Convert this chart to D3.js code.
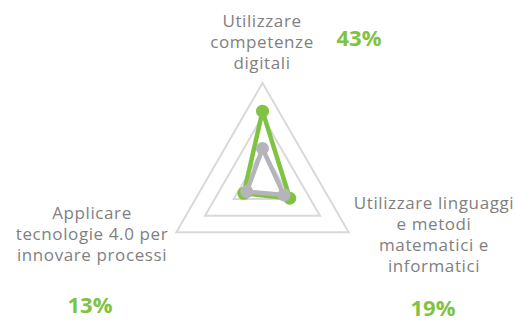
<!DOCTYPE html>
<html>
<head>
<meta charset="utf-8">
<script src="https://cdn.jsdelivr.net/npm/d3@7"></script>
<style>
  body { margin: 0; background: #fff; }
  text { font-family: "Open Sans", sans-serif; }
</style>
</head>
<body>
<div id="chart"></div>
<script>
// axes of the radar, clockwise from the top
var categories = ['Utilizzare competenze digitali', 'Utilizzare linguaggi e metodi matematici e informatici', 'Applicare tecnologie 4.0 per innovare processi'];
var labelLines = [['Utilizzare', 'competenze', 'digitali'], ['Utilizzare linguaggi', 'e metodi', 'matematici e', 'informatici'], ['Applicare', 'tecnologie 4.0 per', 'innovare processi']];
var greenValues = [0.43, 0.19, 0.13];
var greyValues = [0.205, 0.15, 0.11];
var percentLabels = ['43%', '19%', '13%'];
var gridLevels = [0.2, 0.4, 0.6];

var width = 516, height = 322;
var cx = 262.5, cy = 182.5, R = 99.5;

var svg = d3.select('#chart').append('svg').attr('width', width).attr('height', height);

var r = d3.scaleLinear().domain([0, 0.6]).range([0, R]);
var angle = d3.scaleLinear().domain([0, categories.length]).range([0, 2 * Math.PI]);

var radial = d3.lineRadial().angle(function(d, i) { return angle(i); }).radius(function(d) { return r(d); }).curve(d3.curveLinearClosed);

var g = svg.append('g').attr('transform', 'translate(' + cx + ',' + cy + ')');

// grid triangles
g.selectAll('.grid').data(gridLevels).enter().append('path')
  .attr('d', function(lv) { return radial(categories.map(function() { return lv; })); })
  .attr('fill', 'none').attr('stroke', '#d9d9d9').attr('stroke-width', 2);

function series(vals, color) {
  g.append('path').attr('d', radial(vals)).attr('fill', 'none')
    .attr('stroke', color).attr('stroke-width', 4.5).attr('stroke-linejoin', 'round');
  g.selectAll(null).data(vals).enter().append('circle')
    .attr('cx', function(d, i) { return r(d) * Math.sin(angle(i)); })
    .attr('cy', function(d, i) { return -r(d) * Math.cos(angle(i)); })
    .attr('r', 6.5).attr('fill', color);
}
series(greenValues, '#80c342');
series(greyValues, '#b4b4ba');

// category labels
var labelPos = [{x: 262, y: 27}, {x: 434, y: 209}, {x: 92, y: 219}];
var lineH = 21;
labelLines.forEach(function(lines, i) {
  var t = svg.append('text').attr('text-anchor', 'middle').attr('fill', '#7f7f7f')
    .attr('font-size', 17).attr('letter-spacing', 0.6);
  lines.forEach(function(l, j) {
    t.append('tspan').attr('x', labelPos[i].x).attr('y', labelPos[i].y + j * lineH).text(l);
  });
});

// percentages
var pctPos = [{x: 359, y: 46}, {x: 433, y: 316}, {x: 90, y: 313}];
svg.selectAll('.pct').data(percentLabels).enter().append('text')
  .attr('x', function(d, i) { return pctPos[i].x; })
  .attr('y', function(d, i) { return pctPos[i].y; })
  .attr('text-anchor', 'middle').attr('fill', '#80c342')
  .attr('font-weight', 'bold').attr('font-size', 22).text(function(d) { return d; });
</script>
</body>
</html>
